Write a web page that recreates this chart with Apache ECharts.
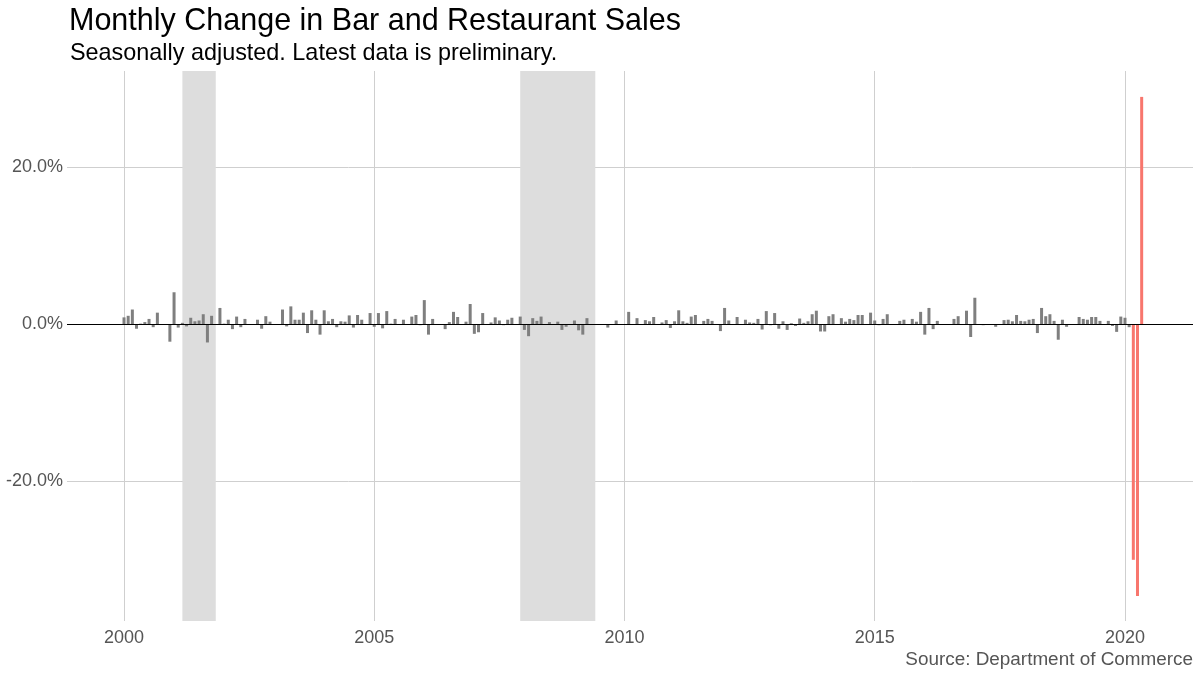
<!DOCTYPE html>
<html>
<head>
<meta charset="utf-8">
<script src="https://cdn.jsdelivr.net/npm/echarts/dist/echarts.min.js"></script>
<style>
html,body{margin:0;padding:0;background:#fff;}
#chart{width:1200px;height:676px;}
</style>
</head>
<body>
<div id="chart"></div>
<script>
// Monthly % change, Jan..Dec of each year (2020: Jan..May)
const v2000 = [0.9, 1.1, 1.9, -0.55, 0.1, 0.3, 0.7, -0.35, 1.5, 0.05, 0.0, -2.2];
const v2001 = [4.1, -0.4, 0.2, -0.25, 0.85, 0.4, 0.5, 1.3, -2.3, 1.1, 0.0, 2.1];
const v2002 = [0.1, 0.6, -0.6, 1.0, -0.35, 0.7, 0.0, 0.0, 0.6, -0.55, 1.05, 0.35];
const v2003 = [0.0, 0.05, 1.9, -0.25, 2.3, 0.6, 0.6, 1.5, -1.1, 1.8, 0.6, -1.3];
const v2004 = [1.8, 0.4, 0.7, -0.35, 0.4, 0.35, 1.15, -0.4, 1.2, 0.6, 0.0, 1.45];
const v2005 = [-0.3, 1.45, -0.5, 1.7, 0.1, 0.7, 0.0, 0.6, 0.0, 1.0, 1.2, -0.1];
const v2006 = [3.1, -1.3, 0.7, 0.05, 0.0, -0.6, 0.3, 1.6, 0.95, 0.05, 0.35, 2.6];
const v2007 = [-1.2, -1.0, 1.45, 0.0, 0.25, 0.9, 0.5, -0.1, 0.6, 0.85, 0.0, 1.0];
const v2008 = [-0.7, -1.5, 0.8, 0.45, 1.0, 0.0, 0.3, 0.0, 0.35, -0.7, -0.3, 0.0];
const v2009 = [0.5, -0.75, -1.3, 0.8, 0.0, 0.0, 0.0, -0.05, -0.4, 0.0, 0.5, 0.0];
const v2010 = [0.0, 1.6, 0.0, 0.8, 0.0, 0.55, 0.4, 0.95, 0.0, 0.25, 0.55, -0.45];
const v2011 = [0.4, 1.8, 0.4, 0.2, 1.0, 1.2, 0.0, 0.45, 0.7, 0.45, 0.0, -0.85];
const v2012 = [2.1, 0.5, 0.05, 0.95, 0.0, 0.6, 0.25, 0.2, 0.7, -0.65, 1.7, -0.1];
const v2013 = [1.45, -0.55, 0.4, -0.7, 0.15, -0.2, 0.75, 0.2, 0.4, 1.3, 1.75, -0.9];
const v2014 = [-0.9, 1.05, 1.3, 0.0, 0.8, 0.35, 0.7, 0.55, 1.2, 1.2, 0.0, 1.5];
const v2015 = [0.5, -0.1, 0.7, 1.3, 0.0, 0.05, 0.45, 0.6, 0.0, 0.7, 0.35, 1.6];
const v2016 = [-1.3, 2.1, -0.6, 0.45, 0.0, 0.0, 0.0, 0.7, 1.05, 0.0, 1.75, -1.6];
const v2017 = [3.4, 0.05, -0.1, 0.05, 0.0, -0.3, 0.0, 0.55, 0.6, 0.4, 1.2, 0.45];
const v2018 = [0.4, 0.6, 0.7, -1.1, 2.1, 1.05, 1.3, 0.45, -1.95, 0.6, -0.3, 0.0];
const v2019 = [0.0, 0.95, 0.7, 0.6, 0.95, 0.95, 0.45, -0.05, 0.45, -0.2, -0.95, 1.0];
const v2020 = [0.85, -0.35, -30.0, -34.6, 29.0];

const startYear = 2000;
const yearlyValues = [v2000, v2001, v2002, v2003, v2004, v2005, v2006, v2007, v2008, v2009,
  v2010, v2011, v2012, v2013, v2014, v2015, v2016, v2017, v2018, v2019, v2020];

// First month highlighted (COVID period)
const highlightFrom = [2020, 3];

// Recessions [start year, start month, end year, end month]
const recessions = [[2001, 3, 2001, 11], [2007, 12, 2009, 6]];

const xTicks = [2000, 2005, 2010, 2015, 2020];
const yTicks = [-20, 0, 20];

const GRAY = '#7f7f7f';
const RED = '#F8766D';
const FONT = 'Liberation Sans, Arial, sans-serif';

const toX = (y, m) => y + (m - 1) / 12;
const hx = toX(highlightFrom[0], highlightFrom[1]);

const barData = [];
yearlyValues.forEach((arr, yi) => {
  arr.forEach((v, mi) => {
    const x = toX(startYear + yi, mi + 1);
    const item = { value: [x, v] };
    if (x >= hx - 1e-9) item.itemStyle = { color: RED };
    barData.push(item);
  });
});

const chart = echarts.init(document.getElementById('chart'), null, { renderer: 'canvas' });
chart.setOption({
  animation: false,
  backgroundColor: '#ffffff',
  textStyle: { fontFamily: FONT },
  grid: { left: 67, right: 7, top: 71, bottom: 55, containLabel: false },
  graphic: [
    { type: 'text', left: 69, top: 6, style: { text: 'Monthly Change in Bar and Restaurant Sales', fontSize: 30.5, fontFamily: FONT, fill: '#000' } },
    { type: 'text', left: 70, top: 42, style: { text: 'Seasonally adjusted. Latest data is preliminary.', fontSize: 23.4, fontFamily: FONT, fill: '#000' } },
    { type: 'text', right: 7, top: 650, style: { text: 'Source: Department of Commerce', fontSize: 18.9, fontFamily: FONT, fill: '#555', textAlign: 'right' } }
  ],
  xAxis: {
    type: 'value',
    min: 1998.861,
    max: 2021.359,
    axisLine: { show: false },
    axisTick: { show: false, customValues: xTicks },
    axisLabel: { customValues: xTicks, formatter: v => String(Math.round(v)), color: '#555', fontSize: 18, fontFamily: FONT, margin: 8 },
    splitLine: { show: true, lineStyle: { color: '#cfcfcf', width: 1 } }
  },
  yAxis: {
    type: 'value',
    min: -37.8,
    max: 32.3,
    axisLine: { show: false },
    axisTick: { show: false, customValues: yTicks },
    axisLabel: { customValues: yTicks, formatter: v => v.toFixed(1) + '%', color: '#555', fontSize: 18, fontFamily: FONT, margin: 4 },
    splitLine: { show: true, lineStyle: { color: '#cfcfcf', width: 1 } }
  },
  series: [
    {
      type: 'bar',
      z: 1,
      data: [],
      silent: true,
      markArea: {
        silent: true,
        itemStyle: { color: '#dddddd' },
        data: recessions.map(r => [{ xAxis: toX(r[0], r[1]) }, { xAxis: toX(r[2], r[3]) }])
      }
    },
    {
      type: 'bar',
      z: 3,
      barWidth: 3,
      barGap: '-100%',
      itemStyle: { color: GRAY },
      data: barData,
      markLine: {
        silent: true,
        symbol: 'none',
        label: { show: false },
        lineStyle: { color: '#000', width: 1.2, type: 'solid' },
        data: [{ yAxis: 0 }]
      }
    }
  ]
});
</script>
</body>
</html>
